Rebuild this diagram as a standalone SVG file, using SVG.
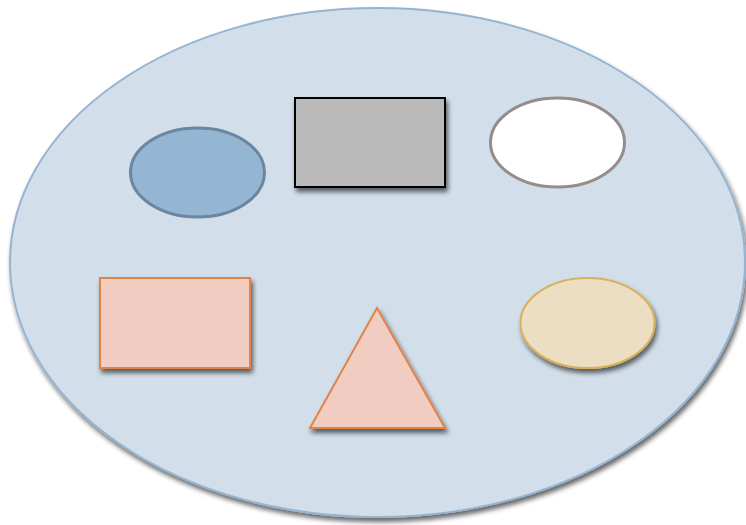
<svg xmlns="http://www.w3.org/2000/svg" width="746" height="525" viewBox="0 0 746 525">
<defs>
<filter id="sh" x="-10%" y="-10%" width="130%" height="130%">
<feGaussianBlur in="SourceAlpha" stdDeviation="2.5"/>
<feOffset dx="2" dy="4" result="b"/>
<feComponentTransfer><feFuncA type="linear" slope="0.6"/></feComponentTransfer>
<feMerge><feMergeNode/><feMergeNode in="SourceGraphic"/></feMerge>
</filter>
<style>
.peach{fill:#f0cdc0;stroke:#e0834a;stroke-width:2}
</style>
</defs>
<g id="container"><ellipse cx="377.5" cy="262.5" rx="367.5" ry="254.5" fill="#d2dfea" stroke="#96b4d2" stroke-width="2" filter="url(#sh)"/></g>
<g id="blue-ellipse"><ellipse cx="197.5" cy="172.5" rx="67" ry="44.5" fill="#94b6d2" stroke="#6a86a0" stroke-width="3"/></g>
<g id="gray-rect"><rect x="295" y="98" width="150" height="89" fill="#bababa" stroke="#000" stroke-width="2" filter="url(#sh)"/></g>
<g id="white-ellipse"><ellipse cx="557.5" cy="142.5" rx="67" ry="44.5" fill="#fff" stroke="#968c8c" stroke-width="3"/></g>
<g id="peach-rect"><rect x="100" y="278" width="150" height="90" class="peach" filter="url(#sh)"/></g>
<g id="triangle"><polygon points="377,308 445,428 310,428" class="peach" filter="url(#sh)"/></g>
<g id="tan-ellipse"><ellipse cx="587.5" cy="323" rx="67" ry="45" fill="#ecdec2" stroke="#d8b15a" stroke-width="2" filter="url(#sh)"/></g>
<g id="connectors"/>
</svg>
